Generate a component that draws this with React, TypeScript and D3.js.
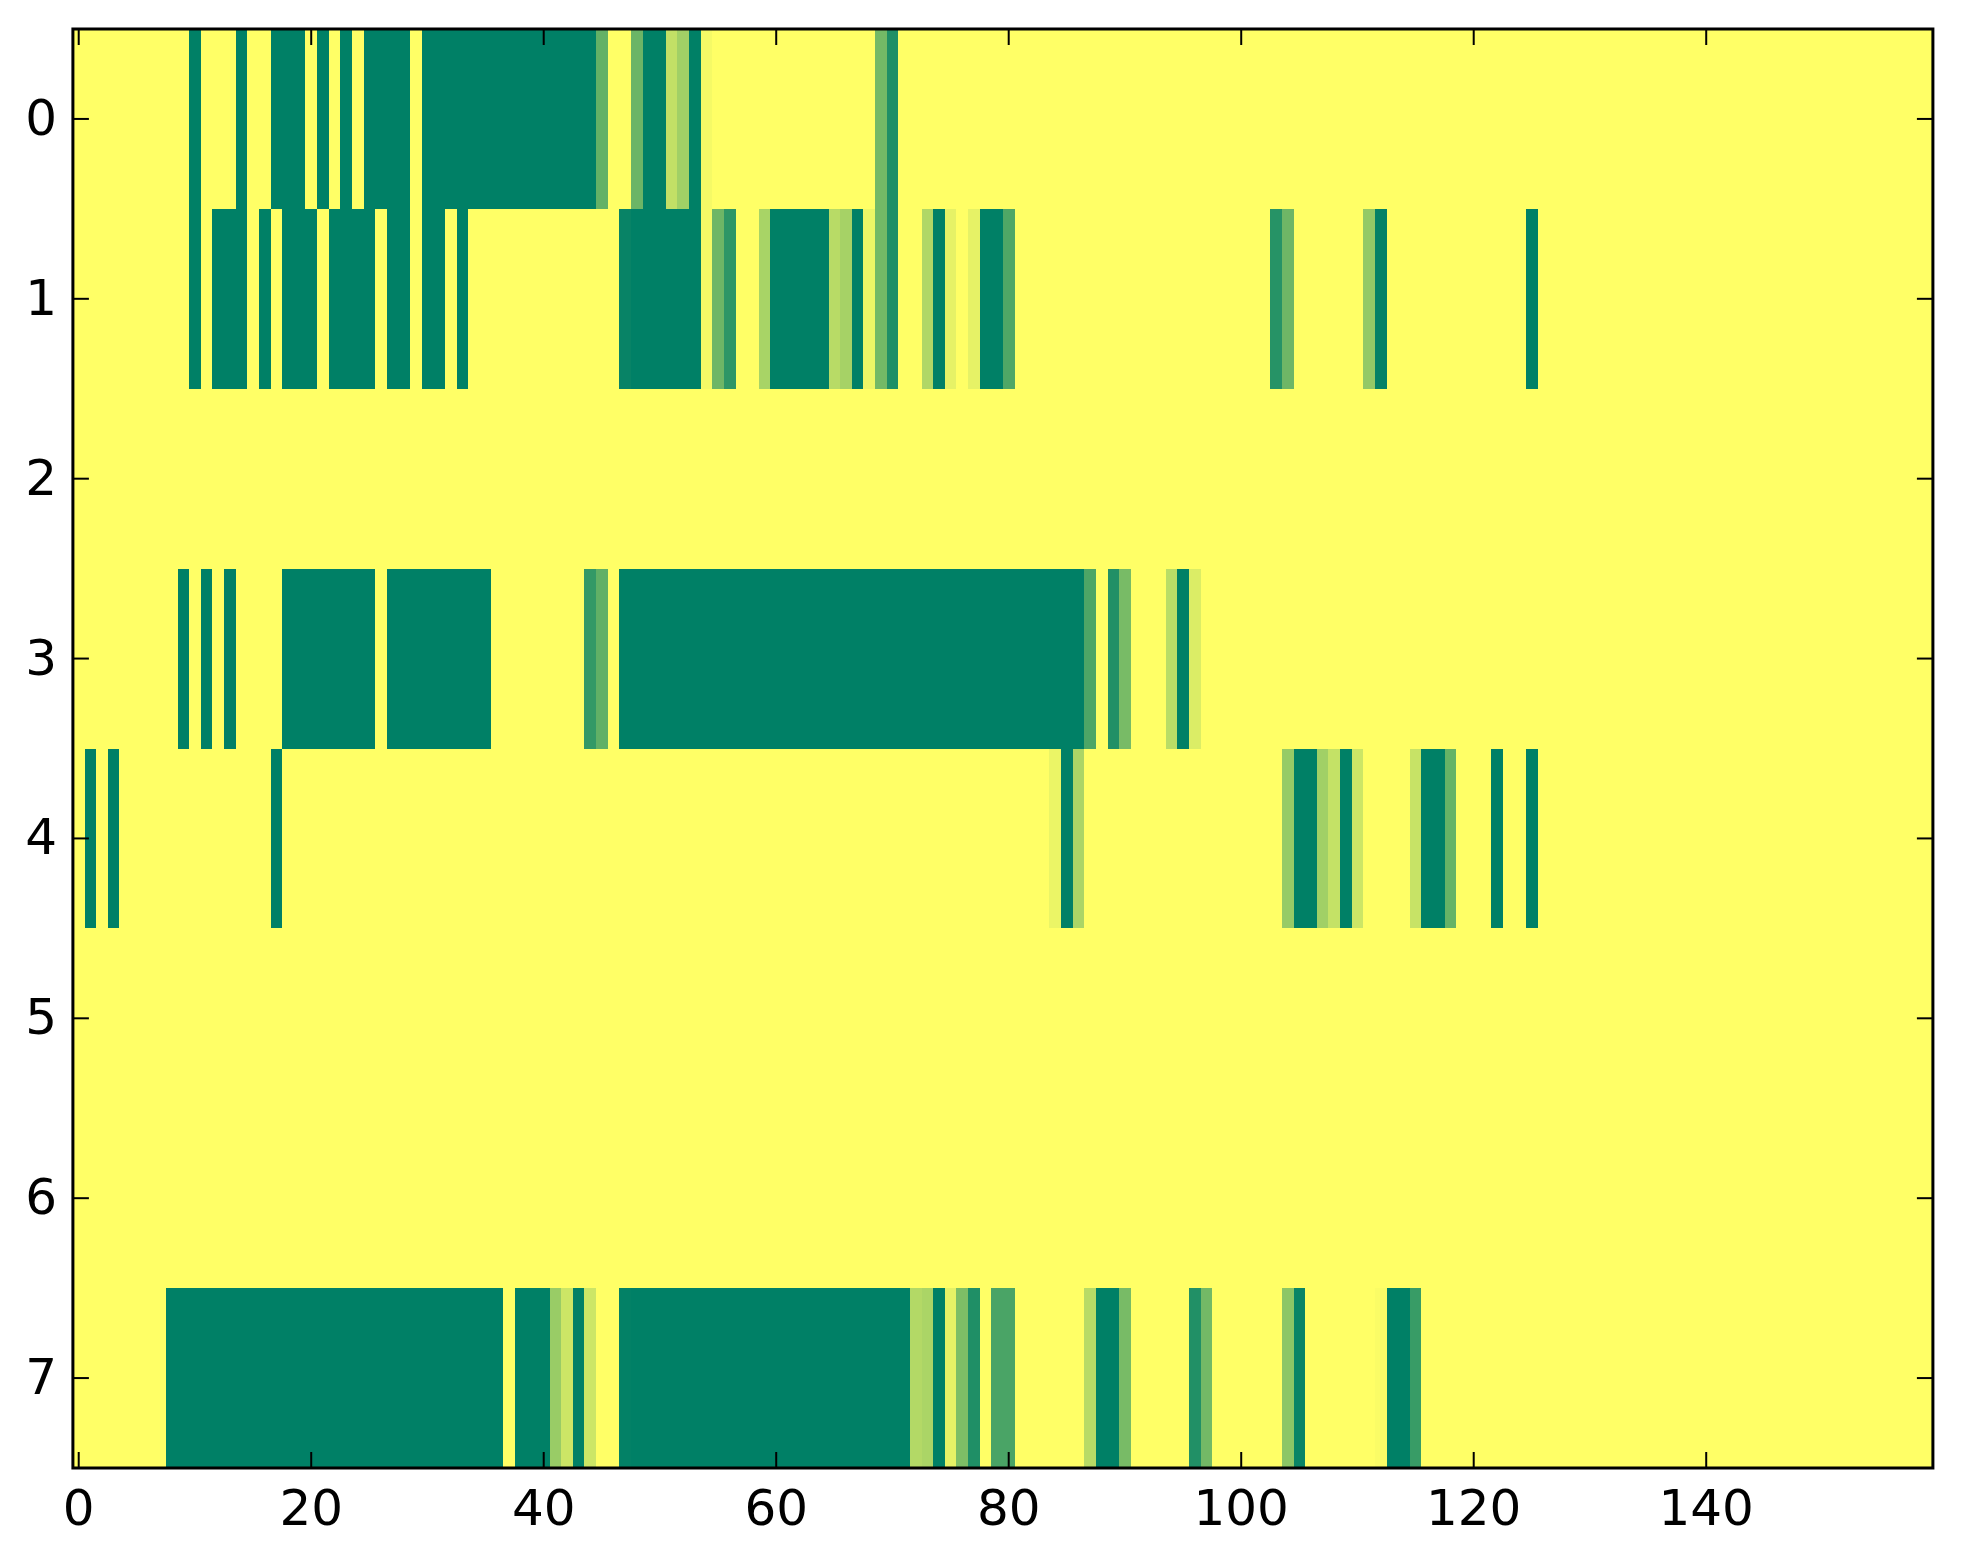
import React from 'react';
import * as d3 from 'd3';

// heatmap is 8 rows x 160 columns, values 0..1, background value is 1
const nRows = 8;
const nCols = 160;
const xTicks = [0, 20, 40, 60, 80, 100, 120, 140];
const yTicks = [0, 1, 2, 3, 4, 5, 6, 7];

// runs of cells that are not 1: [firstCol, lastCol, value]
type Run = [number, number, number];

const row0: Run[] = [
  [10, 10, 0], [14, 14, 0], [17, 19, 0], [21, 21, 0], [23, 23, 0], [25, 28, 0],
  [30, 44, 0], [45, 45, 0.39], [48, 48, 0.42], [49, 50, 0], [51, 51, 0.76],
  [52, 52, 0.63], [53, 53, 0], [54, 54, 0.96], [69, 69, 0.45], [70, 70, 0.12],
];
const row1: Run[] = [
  [10, 10, 0], [12, 14, 0], [16, 16, 0], [18, 20, 0], [22, 25, 0], [27, 28, 0],
  [30, 31, 0], [33, 33, 0], [47, 47, 0.03], [48, 53, 0], [54, 54, 0.96],
  [55, 55, 0.43], [56, 56, 0.18], [59, 59, 0.66], [60, 64, 0], [65, 65, 0.72],
  [66, 66, 0.65], [67, 67, 0], [68, 68, 0.93], [69, 69, 0.45], [70, 70, 0.12],
  [73, 73, 0.69], [74, 74, 0], [75, 75, 0.9], [77, 77, 0.9], [78, 79, 0],
  [80, 80, 0.31], [103, 103, 0.15], [104, 104, 0.43], [111, 111, 0.58],
  [112, 112, 0.02], [125, 125, 0],
];
const row2: Run[] = [];
const row3: Run[] = [
  [9, 9, 0], [11, 11, 0], [13, 13, 0], [18, 25, 0], [27, 35, 0], [44, 44, 0.2],
  [45, 45, 0.38], [47, 86, 0], [87, 87, 0.3], [89, 89, 0.13], [90, 90, 0.47],
  [94, 94, 0.73], [95, 95, 0], [96, 96, 0.86],
];
const row4: Run[] = [
  [1, 1, 0], [3, 3, 0], [17, 17, 0], [84, 84, 0.92], [85, 85, 0], [86, 86, 0.67],
  [104, 104, 0.59], [105, 106, 0], [107, 107, 0.63], [108, 108, 0.77],
  [109, 109, 0], [110, 110, 0.8], [115, 115, 0.78], [116, 117, 0],
  [118, 118, 0.4], [122, 122, 0], [125, 125, 0],
];
const row5: Run[] = [];
const row6: Run[] = [];
const row7: Run[] = [
  [8, 36, 0], [38, 40, 0], [41, 41, 0.6], [42, 42, 0.8], [43, 43, 0], [44, 44, 0.8],
  [47, 47, 0.01], [48, 71, 0], [72, 72, 0.7], [73, 73, 0.67], [74, 74, 0],
  [75, 75, 0.9], [76, 76, 0.49], [77, 77, 0.12], [79, 80, 0.29], [87, 87, 0.72],
  [88, 89, 0], [90, 90, 0.47], [96, 96, 0.13], [97, 97, 0.45], [104, 104, 0.55],
  [105, 105, 0.04], [112, 112, 0.98], [113, 114, 0], [115, 115, 0.22],
];

const rows = [row0, row1, row2, row3, row4, row5, row6, row7];

const W = 1963;
const H = 1564;
const left = 72.9;
const right = 1932.9;
const top = 29;
const bottom = 1468;

// matplotlib "summer" colormap
const summer = (v: number) => d3.rgb(255 * v, 255 * (0.5 + v / 2), 102).toString();

const font = '"DejaVu Sans", sans-serif';

export default function App() {
  const x = d3.scaleLinear().domain([-0.5, nCols - 0.5]).range([left, right]);
  const y = d3.scaleLinear().domain([-0.5, nRows - 0.5]).range([top, bottom]);

  const grid = rows.map(runs => {
    const vals = new Array(nCols).fill(1);
    runs.forEach(([a, b, v]) => {
      for (let c = a; c <= b; c++) vals[c] = v;
    });
    return vals;
  });

  const tickLen = 16;

  return (
    <div style={{ position: 'absolute', left: 0, top: 0 }}>
      <svg width={W} height={H} style={{ display: 'block', background: '#fff' }}>
        <g shapeRendering="crispEdges">
          {grid.map((vals, r) =>
            vals.map((v, c) => (
              <rect
                key={`${r}-${c}`}
                x={x(c - 0.5)}
                y={y(r - 0.5)}
                width={x(c + 0.5) - x(c - 0.5) + 0.5}
                height={y(r + 0.5) - y(r - 0.5) + 0.5}
                fill={summer(v)}
              />
            ))
          )}
        </g>

        {/* ticks, pointing inward on all four sides */}
        <g stroke="#000" strokeWidth={2}>
          {xTicks.map(t => (
            <g key={`xt${t}`}>
              <line x1={x(t)} x2={x(t)} y1={bottom} y2={bottom - tickLen} />
              <line x1={x(t)} x2={x(t)} y1={top} y2={top + tickLen} />
            </g>
          ))}
          {yTicks.map(t => (
            <g key={`yt${t}`}>
              <line x1={left} x2={left + tickLen} y1={y(t)} y2={y(t)} />
              <line x1={right} x2={right - tickLen} y1={y(t)} y2={y(t)} />
            </g>
          ))}
        </g>

        <rect
          x={left}
          y={top}
          width={right - left}
          height={bottom - top}
          fill="none"
          stroke="#000"
          strokeWidth={3}
        />

        <g fontFamily={font} fontSize={50} fill="#000">
          {xTicks.map(t => (
            <text key={`xl${t}`} x={x(t)} y={1525} textAnchor="middle">
              {t}
            </text>
          ))}
          {yTicks.map(t => (
            <text key={`yl${t}`} x={57} y={y(t) + 16} textAnchor="end">
              {t}
            </text>
          ))}
        </g>
      </svg>
    </div>
  );
}
